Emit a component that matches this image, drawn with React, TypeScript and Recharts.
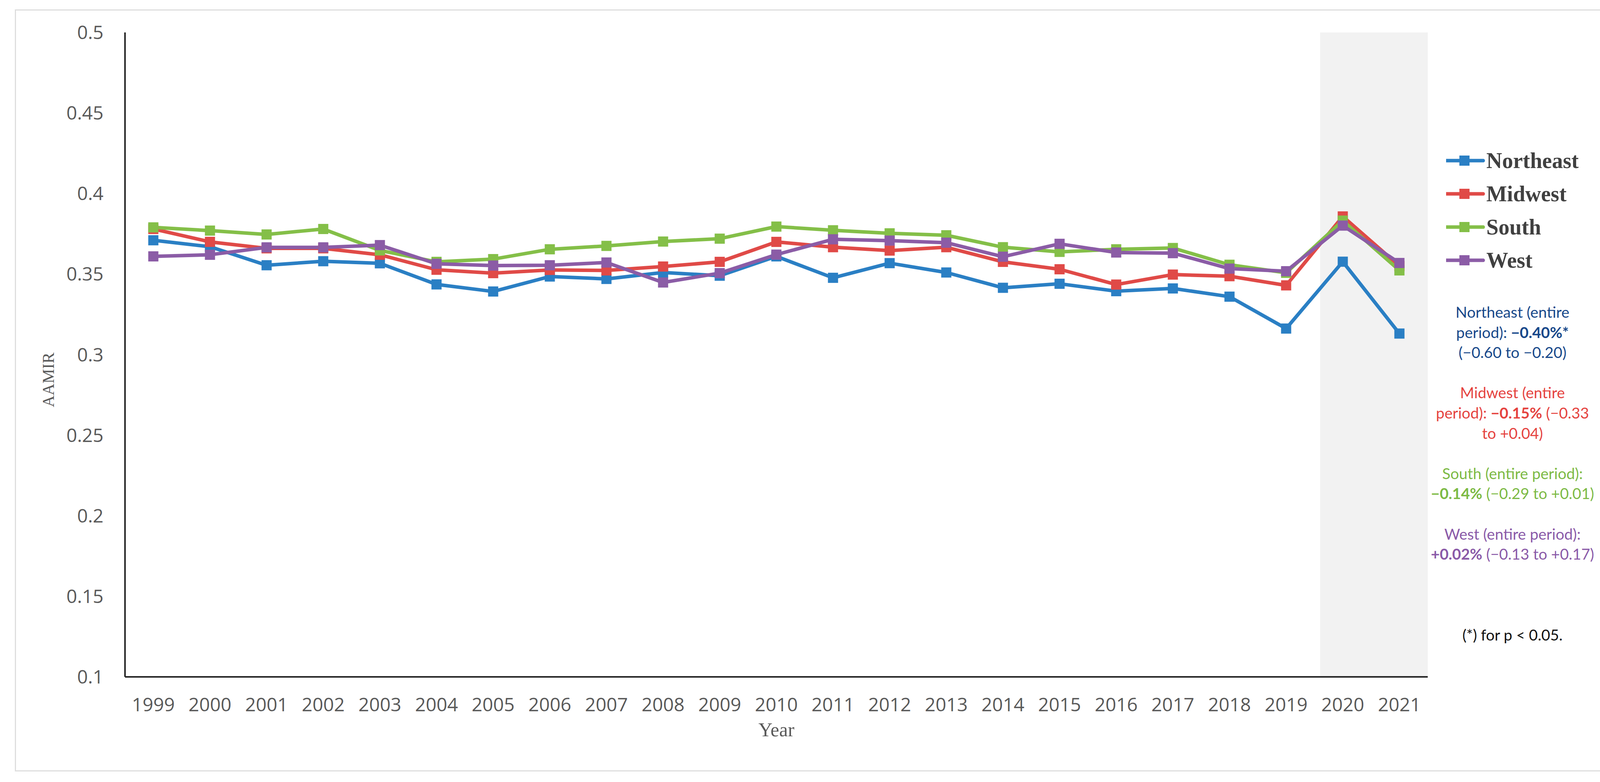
import React from 'react';
import { LineChart, Line, XAxis, YAxis, ReferenceArea, Legend } from 'recharts';

const years = [1999, 2000, 2001, 2002, 2003, 2004, 2005, 2006, 2007, 2008, 2009, 2010, 2011, 2012, 2013, 2014, 2015, 2016, 2017, 2018, 2019, 2020, 2021];

const northeast = [0.371, 0.367, 0.3555, 0.358, 0.3567, 0.3436, 0.3392, 0.3485, 0.347, 0.351, 0.349, 0.361, 0.3477, 0.3568, 0.351, 0.3415, 0.344, 0.3394, 0.3411, 0.336, 0.3162, 0.3577, 0.3131];
const midwest = [0.378, 0.37, 0.366, 0.366, 0.362, 0.3527, 0.3506, 0.3526, 0.3523, 0.3547, 0.3576, 0.37, 0.3667, 0.3646, 0.3667, 0.3576, 0.353, 0.3435, 0.3497, 0.3487, 0.343, 0.3858, 0.355];
const south = [0.379, 0.377, 0.3746, 0.378, 0.3647, 0.3576, 0.3593, 0.3654, 0.3675, 0.3702, 0.372, 0.3795, 0.3772, 0.3753, 0.3741, 0.3667, 0.3638, 0.3654, 0.3662, 0.3558, 0.3508, 0.3832, 0.3523];
const west = [0.361, 0.362, 0.3666, 0.3666, 0.368, 0.3564, 0.3553, 0.3555, 0.3572, 0.3448, 0.3506, 0.3621, 0.3716, 0.3708, 0.3695, 0.3608, 0.3688, 0.3634, 0.363, 0.3534, 0.3518, 0.3801, 0.3569];

const yTicks = [0.1, 0.15, 0.2, 0.25, 0.3, 0.35, 0.4, 0.45, 0.5];
const yDomain = [0.1, 0.5];
const xDomain = [1998.5, 2021.5];
const shadedFrom = 2019.6;
const shadedTo = 2021.5;

const seriesNames = ['Northeast', 'Midwest', 'South', 'West'];
const seriesKeys = ['northeast', 'midwest', 'south', 'west'];
const seriesColors = ['#2a7fc4', '#e04a47', '#84bf48', '#8b5ca6'];

const data = years.map((year, i) => ({
  year,
  northeast: northeast[i],
  midwest: midwest[i],
  south: south[i],
  west: west[i],
}));

type NoteLine = { parts: { text: string; bold?: boolean }[]; color: string };
const noteColors = { ne: '#17488a', mw: '#e5433f', s: '#7dba45', w: '#8a5aa8', k: '#111111' };
const notes: (NoteLine | null)[] = [
  { parts: [{ text: 'Northeast (entire' }], color: noteColors.ne },
  { parts: [{ text: 'period): ' }, { text: '\u22120.40%*', bold: true }], color: noteColors.ne },
  { parts: [{ text: '(\u22120.60 to \u22120.20)' }], color: noteColors.ne },
  null,
  { parts: [{ text: 'Midwest (entire' }], color: noteColors.mw },
  { parts: [{ text: 'period): ' }, { text: '\u22120.15%', bold: true }, { text: ' (\u22120.33' }], color: noteColors.mw },
  { parts: [{ text: 'to +0.04)' }], color: noteColors.mw },
  null,
  { parts: [{ text: 'South (entire period):' }], color: noteColors.s },
  { parts: [{ text: '\u22120.14%', bold: true }, { text: ' (\u22120.29 to +0.01)' }], color: noteColors.s },
  null,
  { parts: [{ text: 'West (entire period):' }], color: noteColors.w },
  { parts: [{ text: '+0.02%', bold: true }, { text: ' (\u22120.13 to +0.17)' }], color: noteColors.w },
  null,
  null,
  null,
  { parts: [{ text: '(*) for p < 0.05.' }], color: noteColors.k },
];

const makeDot = (color: string) => (props: any) => {
  const { cx, cy, index } = props;
  if (cx == null || cy == null) return <g key={`e-${index}`} />;
  return <rect key={`d-${index}`} x={cx - 13} y={cy - 13} width={26} height={26} fill={color} />;
};

const renderLegend = () => (
  <div>
    {seriesNames.map((name, i) => (
      <div key={name} style={{ display: 'flex', alignItems: 'center', height: 85 }}>
        <svg width={100} height={30} style={{ display: 'block' }}>
          <line x1={0} y1={15} x2={95} y2={15} stroke={seriesColors[i]} strokeWidth={9} strokeLinecap="round" />
          <rect x={34} y={2} width={26} height={26} fill={seriesColors[i]} />
        </svg>
        <span
          style={{
            fontFamily: '"Liberation Serif", "Times New Roman", serif',
            fontWeight: 'bold',
            fontSize: 56,
            color: '#404040',
            marginLeft: 3,
            lineHeight: 1,
          }}
        >
          {name}
        </span>
      </div>
    ))}
  </div>
);

const tickFont = { fontFamily: '"Open Sans", sans-serif', fontSize: 48, fill: '#595959' };

export default function App() {
  return (
    <div style={{ position: 'absolute', left: 0, top: 0, width: 4135, height: 2001, background: '#ffffff' }}>
      <div
        style={{
          position: 'absolute',
          left: 38,
          top: 24,
          width: 4076,
          height: 1950,
          border: '3px solid #dedede',
          boxSizing: 'border-box',
        }}
      />
      <div style={{ position: 'absolute', left: 0, top: 0 }}>
        <LineChart width={4135} height={2001} data={data} margin={{ top: 83, right: 480, bottom: 0, left: 0 }}>
          <ReferenceArea
            x1={shadedFrom}
            x2={shadedTo}
            y1={yDomain[0]}
            y2={yDomain[1]}
            fill="#f2f2f2"
            fillOpacity={1}
            stroke="none"
            ifOverflow="visible"
          />
          <XAxis
            dataKey="year"
            type="number"
            domain={xDomain}
            allowDataOverflow={true}
            ticks={years}
            interval={0}
            height={269}
            tickLine={false}
            tickSize={0}
            tickMargin={54}
            axisLine={{ stroke: '#262626', strokeWidth: 4 }}
            tick={tickFont}
            tickFormatter={(v: number) => String(v)}
            label={{
              content: (p: any) => {
                const vb = p.viewBox || {};
                return (
                  <text
                    x={vb.x + vb.width / 2}
                    y={1884}
                    textAnchor="middle"
                    fontFamily='"Liberation Serif", "Times New Roman", serif'
                    fontSize={50}
                    fill="#595959"
                  >
                    Year
                  </text>
                );
              },
            }}
          />
          <YAxis
            type="number"
            domain={yDomain}
            allowDataOverflow={true}
            ticks={yTicks}
            interval={0}
            width={320}
            tickLine={false}
            tickSize={0}
            tickMargin={55}
            axisLine={{ stroke: '#262626', strokeWidth: 4 }}
            tick={tickFont}
            tickFormatter={(v: number) => String(v)}
            label={{
              content: () => (
                <text
                  x={124}
                  y={972}
                  transform="rotate(-90 124 972)"
                  textAnchor="middle"
                  dominantBaseline="central"
                  fontFamily='"Liberation Serif", "Times New Roman", serif'
                  fontSize={42}
                  fill="#595959"
                >
                  AAMIR
                </text>
              ),
            }}
          />
          {seriesKeys.map((key, i) => (
            <Line
              key={key}
              type="linear"
              dataKey={key}
              name={seriesNames[i]}
              stroke={seriesColors[i]}
              strokeWidth={9}
              strokeLinejoin="round"
              dot={makeDot(seriesColors[i])}
              activeDot={false}
              isAnimationActive={false}
            />
          ))}
          <Legend
            layout="vertical"
            align="center"
            verticalAlign="middle"
            content={renderLegend}
            wrapperStyle={{ left: 3702, top: 368, width: 420, height: 340 }}
          />
        </LineChart>
      </div>
      <div
        style={{
          position: 'absolute',
          left: 3872 - 320,
          top: 773,
          width: 640,
          textAlign: 'center',
          fontFamily: 'Lato, "Open Sans", sans-serif',
          fontSize: 39,
          lineHeight: '51.6px',
        }}
      >
        {notes.map((line, i) =>
          line ? (
            <div key={i} style={{ color: line.color, whiteSpace: 'nowrap', height: 51.6 }}>
              {line.parts.map((p, j) => (
                <span key={j} style={{ fontWeight: p.bold ? 'bold' : 'normal' }}>
                  {p.text}
                </span>
              ))}
            </div>
          ) : (
            <div key={i} style={{ height: 51.6 }} />
          )
        )}
      </div>
    </div>
  );
}
